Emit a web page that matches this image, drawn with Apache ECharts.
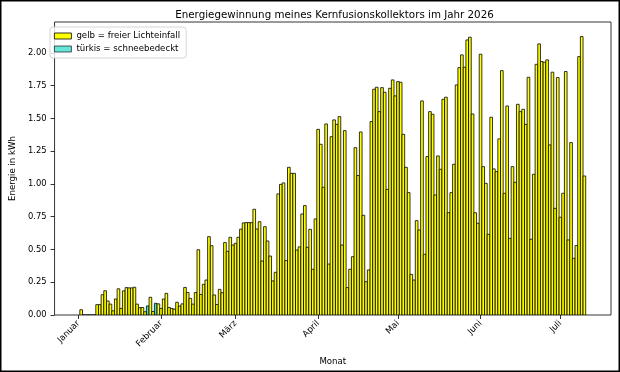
<!DOCTYPE html>
<html>
<head>
<meta charset="utf-8">
<script src="https://cdn.jsdelivr.net/npm/echarts@6/dist/echarts.min.js"></script>
<style>
  body { margin: 0; background: #fff; }
  #chart { width: 620px; height: 372px; }
</style>
</head>
<body>
<div id="chart"></div>
<script>
// Tageswerte in kWh, je Monat ab dem 1. (null = kein Wert)
const januar = [null, 0.04, 0, 0, 0, 0, 0, 0.079, 0.079, 0.155, 0.185, 0.107, 0.083, 0.032, 0.122, 0.20,
  0.05, 0.184, 0.209, 0.207, 0.207, 0.212, 0.083, 0.056, 0.057, 0.025, 0.069, 0.135, 0.027, 0.089, 0.085]
const februar = [0.05, 0.122, 0.165, 0.057, 0.05, 0.045, 0.097, 0.068, 0.085, 0.21, 0.172, 0.127, 0.083, 0.172,
  0.498, 0.157, 0.234, 0.267, 0.598, 0.529, 0.153, 0.08, 0.196, 0.17, 0.553, 0.486, 0.593, 0.534]
const maerz = [0.547, 0.593, 0.655, 0.703, 0.705, 0.705, 0.705, 0.807, 0.656, 0.712, 0.412, 0.674, 0.565, 0.45,
  0.26, 0.326, 0.924, 0.997, 1.008, 0.415, 1.127, 1.081, 1.081, 0.496, 0.52, 0.771, 0.835, 0.517, 0.654, 0.349, 0.733]
const april = [1.417, 1.303, 0.975, 1.458, 0.389, 1.361, 1.489, 1.455, 1.514, 0.534, 1.407, 0.209, 0.349, 0.445,
  1.277, 1.064, 1.397, 0.761, 0.254, 0.344, 1.476, 1.723, 1.738, 1.552, 1.735, 1.70, 0.959, 1.73, 1.794, 1.672]
const mai = [1.781, 1.776, 1.379, 1.127, 0.934, 0.31, 0.267, 0.72, 0.649, 1.634, 0.463, 1.209, 1.552, 1.532,
  0.916, 1.214, 1.112, 1.646, 1.662, 0.781, 0.934, 1.15, 1.756, 1.888, 1.985, 1.891, 2.099, 2.12, 1.534, 0.78, 0.70]
const juni = [1.99, 1.132, 1.005, 0.616, 1.509, 1.115, 1.094, 1.344, 1.865, 0.929, 1.595, 0.585, 1.132, 1.013,
  1.608, 1.552, 1.57, 1.455, 1.814, 0.578, 1.074, 1.913, 2.069, 1.934, 1.929, 1.947, 1.298, 1.853, 0.814, 1.812]
const juli = [0.746, 0.929, 1.858, 0.573, 1.316, 0.433, 0.53, 1.972, 2.125, 1.061]

// Tage mit Schnee auf dem Kollektor (Tag im Jahr, 0 = 1. Januar)
const schneeTage = [26, 29]

const monatsNamen = ["Januar", "Februar", "März", "April", "Mai", "Juni", "Juli"]
const monatsAnfang = [0, 31, 59, 90, 120, 151, 181]
const yTicks = [0, 0.25, 0.5, 0.75, 1.0, 1.25, 1.5, 1.75, 2.0]

const GELB = "#ffff00"
const TUERKIS = "#40e0d0"

// [Tag, Wert, Schnee 0/1]
const alleWerte = [].concat(januar, februar, maerz, april, mai, juni, juli)
const balken = []
alleWerte.forEach((v, tag) => {
  if (v === null) return
  balken.push([tag, v, schneeTage.includes(tag) ? 1 : 0])
})

const font = "DejaVu Sans"

// Balken 1 Tag breit, schwarzer Rand wie bei matplotlib
const renderBalken = (params, api) => {
  const oben = api.coord([api.value(0), api.value(1)])
  const unten = api.coord([api.value(0), 0])
  const w = api.size([1, 0])[0]
  return {
    type: "rect",
    shape: { x: oben[0] - w / 2, y: oben[1], width: w, height: unten[1] - oben[1] },
    style: {
      fill: api.value(2) ? TUERKIS : GELB,
      stroke: "#000",
      lineWidth: 0.8,
    },
  }
}

const chart = echarts.init(document.getElementById("chart"))
chart.setOption({
  animation: false,
  textStyle: { fontFamily: font },
  title: {
    text: "Energiegewinnung meines Kernfusionskollektors im Jahr 2026",
    left: 329.5,
    top: 5,
    textAlign: "center",
    textStyle: { fontFamily: font, fontSize: 10.3, fontWeight: "normal", color: "#000" },
  },
  legend: {
    orient: "vertical",
    left: 50,
    top: 27,
    icon: "rect",
    itemWidth: 17,
    itemHeight: 6,
    itemGap: 3,
    padding: [4, 6, 4, 4],
    backgroundColor: "rgba(255,255,255,0.8)",
    borderColor: "#cccccc",
    borderWidth: 0.8,
    borderRadius: 3,
    textStyle: { fontFamily: font, fontSize: 8.6, color: "#000", lineHeight: 10 },
    itemStyle: { borderColor: "#000", borderWidth: 0.8 },
    data: [
      { name: "gelb = freier Lichteinfall", itemStyle: { color: GELB } },
      { name: "türkis = schneebedeckt", itemStyle: { color: TUERKIS } },
    ],
  },
  graphic: [
    {
      type: "rect",
      shape: { x: 0.75, y: 0.75, width: 618.5, height: 370.5 },
      style: { fill: null, stroke: "#000", lineWidth: 1.5 },
      silent: true,
    },
  ],
  grid: {
    left: 48,
    right: 9,
    top: 22,
    bottom: 57,
    show: true,
    borderColor: "#000",
    borderWidth: 0.8,
  },
  xAxis: {
    type: "value",
    min: -9,
    max: 200,
    name: "Monat",
    nameLocation: "middle",
    nameGap: 42,
    nameTextStyle: { fontFamily: font, fontSize: 8.6, color: "#000" },
    splitLine: { show: false },
    axisLine: { show: false, onZero: false },
    axisTick: { show: true, length: 4, lineStyle: { color: "#000", width: 0.8 }, customValues: monatsAnfang },
    axisLabel: {
      customValues: monatsAnfang,
      rotate: 45,
      margin: 7,
      fontFamily: font,
      fontSize: 8.6,
      color: "#000",
      formatter: (v) => monatsNamen[monatsAnfang.indexOf(v)] || "",
    },
  },
  yAxis: {
    type: "value",
    min: 0,
    max: 2.236,
    name: "Energie in kWh",
    nameLocation: "middle",
    nameGap: 34,
    nameTextStyle: { fontFamily: font, fontSize: 8.6, color: "#000" },
    splitLine: { show: false },
    axisLine: { show: false, onZero: false },
    axisTick: { show: true, length: 4, lineStyle: { color: "#000", width: 0.8 }, customValues: yTicks },
    axisLabel: {
      customValues: yTicks,
      margin: 8,
      fontFamily: font,
      fontSize: 8.4,
      color: "#000",
      formatter: (v) => v.toFixed(2),
    },
  },
  series: [
    {
      name: "gelb = freier Lichteinfall",
      type: "custom",
      data: balken,
      renderItem: renderBalken,
      encode: { x: 0, y: 1 },
      clip: true,
      itemStyle: { color: GELB, borderColor: "#000", borderWidth: 0.8 },
    },
    {
      // nur für den Legendeneintrag, die türkisen Balken zeichnet renderBalken
      name: "türkis = schneebedeckt",
      type: "scatter",
      data: [],
      itemStyle: { color: TUERKIS, borderColor: "#000", borderWidth: 0.8 },
    },
  ],
})
</script>
</body>
</html>
